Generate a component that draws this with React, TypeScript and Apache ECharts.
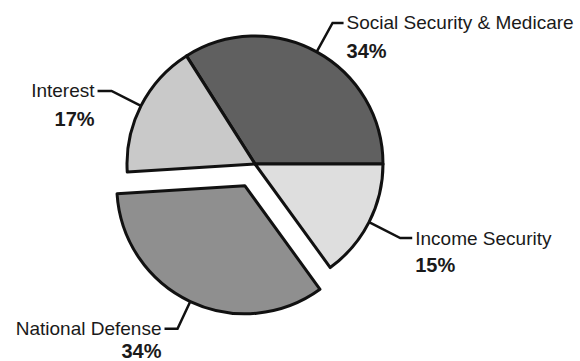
import React, { useEffect, useRef } from 'react';
import * as echarts from 'echarts';

// Data
const categories = ['Social Security & Medicare', 'Income Security', 'National Defense', 'Interest'];
const values = [34, 15, 34, 17];
const explodedSlice = 'National Defense';

// Styles (kept separate from the data)
const sliceColors = ['#606060', '#dedede', '#8f8f8f', '#c9c9c9'];
const leaderLen = [33, 35, 30, 33];
const leaderLen2 = [11, 12, 13, 14];
const labelLineHeights = [28, 27, 22, 28];

const FONT = '"Liberation Sans", Arial, Helvetica, sans-serif';

function richFor(lh: number) {
  return {
    n: { fontSize: 19, lineHeight: lh, color: '#1a1a1a', fontFamily: FONT },
    p: { fontSize: 20, lineHeight: lh, fontWeight: 'bold', color: '#1a1a1a', fontFamily: FONT },
  };
}

export default function App() {
  const ref = useRef<HTMLDivElement>(null);
  useEffect(() => {
    document.body.style.margin = '0';
    const chart = echarts.init(ref.current!, undefined, { renderer: 'svg' });
    const total = values.reduce((a, b) => a + b, 0);
    const startAngle = (values[0] / total) * 360;
    const data = categories.map((name, i) => {
      const itemStyle = { color: sliceColors[i], borderColor: '#111', borderWidth: 3 };
      return {
        name,
        value: values[i],
        selected: name === explodedSlice,
        itemStyle,
        label: {
          padding: [labelLineHeights[i], 0, 0, 0],
          rich: richFor(labelLineHeights[i]),
        },
        select: { itemStyle },
        labelLine: { length: leaderLen[i], length2: leaderLen2[i] },
      };
    });
    chart.setOption({
      animation: false,
      backgroundColor: '#ffffff',
      series: [
        {
          type: 'pie',
          center: [255, 164],
          radius: 128,
          startAngle,
          clockwise: true,
          selectedMode: 'single',
          selectedOffset: 24,
          avoidLabelOverlap: false,
          emphasis: { disabled: true },
          data,
          label: {
            show: true,
            position: 'outside',
            distanceToLabelLine: 3,
            padding: [28, 0, 0, 0],
            formatter: '{n|{b}}\n{p|{c}%}',
            rich: richFor(28),
          },
          labelLine: {
            show: true,
            smooth: false,
            lineStyle: { color: '#111', width: 2.5 },
          },
        },
      ],
    });
    return () => chart.dispose();
  }, []);
  return <div ref={ref} style={{ width: 580, height: 361 }} />;
}
